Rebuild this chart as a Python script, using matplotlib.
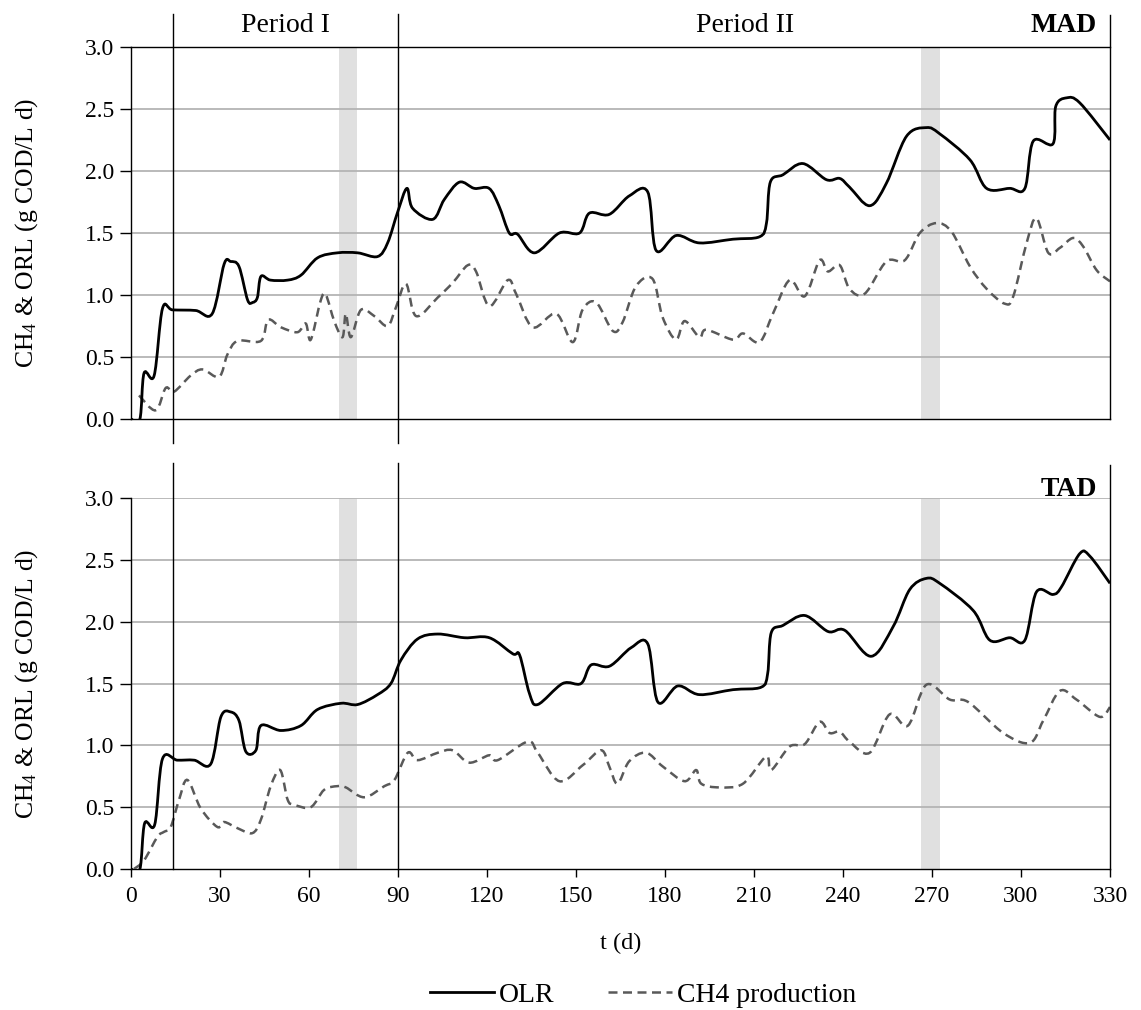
import matplotlib
matplotlib.use("Agg")
import numpy as np
import matplotlib.pyplot as plt
from matplotlib.path import Path
from matplotlib.patches import PathPatch
from matplotlib.lines import Line2D

plt.rcParams['font.family'] = ['Liberation Serif', 'DejaVu Serif']
plt.rcParams['mathtext.fontset'] = 'custom'
plt.rcParams['mathtext.rm'] = 'Liberation Serif'
plt.rcParams['mathtext.it'] = 'Liberation Serif:italic'

# ---- data (t in days, g COD/L d) ----
mad_olr_t = [0, 3, 4.4, 7.8, 10.6, 14, 21.8, 27.4, 31.4, 33.6, 36.4, 39.3, 41, 42.6, 43.8, 47, 52.8,
             57.3, 62.9, 69.6, 76.4, 83.1, 86.5, 89.9, 93, 94.9, 101.7, 105.6, 110.7, 115.7, 120.7,
             124, 127.5, 130.3, 136, 144.4, 151.2, 154.5, 161.2, 168, 174.2, 177, 183.8, 191.6,
             202.9, 211.9, 214.2, 215.5, 219.8, 226.5, 234.4, 238.9, 242.2, 249, 254.6, 261.4,
             268.1, 272.6, 282.8, 288.4, 296.2, 301.3, 304.1, 310.8, 311.7, 315.4, 319.8, 330]
mad_olr = [0, 0, 0.37, 0.35, 0.89, 0.88, 0.875, 0.85, 1.25, 1.27, 1.23, 0.96, 0.94, 0.98, 1.15, 1.12,
           1.12, 1.16, 1.30, 1.34, 1.34, 1.31, 1.42, 1.67, 1.86, 1.70, 1.61, 1.77, 1.91, 1.86, 1.86,
           1.72, 1.50, 1.49, 1.34, 1.50, 1.50, 1.66, 1.65, 1.80, 1.83, 1.36, 1.48, 1.42, 1.45, 1.47,
           1.58, 1.91, 1.97, 2.06, 1.93, 1.94, 1.87, 1.72, 1.90, 2.28, 2.35, 2.30, 2.09, 1.86, 1.86,
           1.86, 2.24, 2.22, 2.52, 2.59, 2.55, 2.25]

mad_ch4_t = [2.7, 8.3, 11.7, 14.5, 20.1, 24.1, 29.7, 32.5, 35.9, 43.8, 46.2, 50.5, 56.1, 58.9, 60.6,
             64, 65.7, 68.5, 71.3, 72.4, 74.1, 77.5, 82, 86.5, 89.3, 92.7, 96.1, 103.4, 108.5, 113.5,
             116.3, 120.8, 127, 129.8, 135.4, 143.3, 148.9, 152.2, 156.8, 162.4, 165.7, 170.2, 175.8,
             179.2, 183.7, 186.6, 191.6, 193.9, 202.9, 206.3, 211.9, 216.4, 222, 227.1, 232.1, 234.9,
             238.9, 242.2, 247.3, 254.6, 260.8, 265.9, 271.5, 276.6, 282.8, 288.4, 294.5, 297.4,
             301.9, 305.2, 309.2, 313.1, 317.6, 321, 325.5, 330]
mad_ch4 = [0.19, 0.07, 0.25, 0.22, 0.35, 0.40, 0.34, 0.52, 0.63, 0.63, 0.80, 0.74, 0.70, 0.77, 0.64,
           0.96, 1.00, 0.79, 0.66, 0.85, 0.66, 0.88, 0.83, 0.75, 0.90, 1.09, 0.83, 0.98, 1.10, 1.24,
           1.19, 0.91, 1.12, 1.01, 0.74, 0.85, 0.62, 0.88, 0.94, 0.71, 0.78, 1.07, 1.13, 0.82, 0.64,
           0.79, 0.66, 0.72, 0.64, 0.69, 0.62, 0.85, 1.12, 0.99, 1.28, 1.19, 1.24, 1.05, 1.01, 1.27,
           1.28, 1.50, 1.58, 1.51, 1.23, 1.05, 0.93, 0.99, 1.42, 1.62, 1.34, 1.38, 1.46, 1.39, 1.20,
           1.11]

tad_olr_t = [0, 3, 4.6, 8, 10.6, 15.6, 21.3, 26.9, 30.3, 33.6, 36.4, 38.7, 42.1, 43.8, 50.5, 57.3,
             62.9, 70.8, 76.4, 83.1, 87.6, 91, 96.6, 103.4, 112.4, 120.8, 128.7, 131, 134.3, 137.1,
             145.5, 151.7, 155.1, 161.3, 168.6, 174.2, 177.6, 184.3, 191.6, 202.9, 212.4, 214.6,
             215.8, 219.8, 227.1, 235, 240.6, 249.5, 256.9, 262.5, 268.1, 272.6, 283.9, 289.5, 296.2,
             301.3, 305.2, 310.8, 313.6, 319.8, 323.2, 330]
tad_olr = [0, 0, 0.37, 0.36, 0.89, 0.88, 0.88, 0.85, 1.23, 1.27, 1.20, 0.95, 0.96, 1.16, 1.12, 1.16,
           1.29, 1.34, 1.33, 1.41, 1.50, 1.69, 1.86, 1.90, 1.87, 1.87, 1.74, 1.73, 1.42, 1.33, 1.50,
           1.50, 1.65, 1.64, 1.79, 1.82, 1.35, 1.48, 1.41, 1.45, 1.47, 1.58, 1.91, 1.97, 2.05, 1.92,
           1.93, 1.72, 1.96, 2.26, 2.35, 2.31, 2.09, 1.85, 1.87, 1.85, 2.24, 2.22, 2.28, 2.55, 2.53,
           2.31]

tad_ch4_t = [1, 4.4, 8.9, 11.1, 13.4, 16.2, 19, 23.5, 29.1, 31.4, 35.9, 40.9, 43.8, 47.1, 50.3, 52.8,
             55, 60.6, 65.1, 69.6, 72.4, 78.6, 85.4, 88.8, 93.3, 96.6, 103.4, 108.4, 114, 120.8, 123.6,
             133.7, 137.1, 144.4, 152.3, 158.5, 161.2, 164, 167.9, 173.6, 179.2, 186.6, 190.5, 192.2,
             198.4, 206.3, 214.1, 215.8, 222, 227.1, 232.1, 235.5, 238.9, 242.2, 249, 255.7, 261.9,
             268.1, 276, 282.2, 294, 303, 307.5, 313.1, 318.7, 326.6, 330]
tad_ch4 = [0, 0.07, 0.26, 0.30, 0.34, 0.56, 0.72, 0.49, 0.34, 0.38, 0.33, 0.29, 0.40, 0.67, 0.80, 0.56,
           0.52, 0.50, 0.64, 0.67, 0.66, 0.58, 0.67, 0.72, 0.94, 0.88, 0.94, 0.96, 0.86, 0.92, 0.88,
           1.03, 0.94, 0.71, 0.84, 0.96, 0.83, 0.69, 0.87, 0.94, 0.83, 0.71, 0.80, 0.69, 0.66, 0.69,
           0.91, 0.80, 0.99, 1.01, 1.19, 1.10, 1.11, 1.03, 0.94, 1.25, 1.16, 1.49, 1.37, 1.35, 1.10,
           1.02, 1.20, 1.44, 1.37, 1.23, 1.31]

period_lines = [14, 90]
shaded = [(70.2, 76.2), (266.4, 272.6)]
x_ticks = list(range(0, 331, 30))
y_ticks = [0, 0.5, 1.0, 1.5, 2.0, 2.5, 3.0]

OLR_COLOR = 'black'
CH4_COLOR = '#595959'
GRID = '#b4b4b4'
DASH = (0, (3.6, 2.2))


def smooth_path(xs, ys):
    # excel-like smoothed line: bezier segments with catmull-rom tangents
    p = np.column_stack([xs, ys]).astype(float)
    verts = [p[0]]
    codes = [Path.MOVETO]
    n = len(p)
    for i in range(n - 1):
        p0 = p[i - 1] if i > 0 else p[i]
        p3 = p[i + 2] if i + 2 < n else p[i + 1]
        c1 = p[i] + (p[i + 1] - p0) / 6.0
        c2 = p[i + 1] - (p3 - p[i]) / 6.0
        verts += [c1, c2, p[i + 1]]
        codes += [Path.CURVE4] * 3
    return Path(verts, codes)


def draw_panel(ax, olr_t, olr, ch4_t, ch4, name, name_y, top_panel):
    ax.set_xlim(0, 330)
    ax.set_ylim(0, 3.0)
    for a, b in shaded:
        ax.axvspan(a, b, ymin=0, ymax=1, color='#e0e0e0', lw=0, zorder=0)
    for y in y_ticks[1:]:
        if top_panel and y == 3.0:
            continue
        ax.axhline(y, color=GRID, lw=1.3, zorder=1)

    ax.add_patch(PathPatch(smooth_path(ch4_t, ch4), fill=False, edgecolor=CH4_COLOR,
                           lw=1.8, linestyle=DASH, zorder=3, capstyle='butt'))
    ax.add_patch(PathPatch(smooth_path(olr_t, olr), fill=False, edgecolor=OLR_COLOR,
                           lw=2.0, zorder=4, joinstyle='round'))

    # period separators and right edge run past the axes box
    if top_panel:
        lo, hi = -0.195, 3.27
    else:
        lo, hi = 0, 3.28
    for x in period_lines:
        ax.plot([x, x], [lo, hi], color='black', lw=1.0, clip_on=False, zorder=5)
    ax.plot([330, 330], [0, hi - 0.01], color='black', lw=1.0, clip_on=False, zorder=5)

    for s in ['left', 'bottom']:
        ax.spines[s].set_linewidth(1.0)
    ax.spines['right'].set_visible(False)
    ax.spines['top'].set_visible(top_panel)
    ax.spines['top'].set_linewidth(1.0)

    ax.set_yticks(y_ticks)
    ax.set_yticklabels(['%.1f' % v for v in y_ticks], fontsize=17)
    ax.tick_params(axis='y', direction='out', length=8, width=1.0, pad=4)
    ax.set_ylabel('CH$_4$ & ORL (g COD/L d)', fontsize=18.5)
    ax.yaxis.set_label_coords(-0.093, 0.5)

    ax.set_xticks(x_ticks)
    if top_panel:
        ax.tick_params(axis='x', length=0, labelbottom=False)
    else:
        ax.set_xticklabels([str(v) for v in x_ticks], fontsize=17)
        ax.tick_params(axis='x', direction='out', length=6, width=1.0, pad=6)
        ax.set_xlabel('t (d)', fontsize=17.5, labelpad=19)

    ax.text(325.5, name_y, name, fontsize=20, fontweight='bold', ha='right', va='center')


fig = plt.figure(figsize=(11.41, 10.10), dpi=100)
ax1 = fig.add_axes([131 / 1141, 1 - 419 / 1010, 979 / 1141, 372 / 1010])
ax2 = fig.add_axes([131 / 1141, 1 - 869 / 1010, 979 / 1141, 371 / 1010])

draw_panel(ax1, mad_olr_t, mad_olr, mad_ch4_t, mad_ch4, 'MAD', 3.17, True)
draw_panel(ax2, tad_olr_t, tad_olr, tad_ch4_t, tad_ch4, 'TAD', 3.07, False)

ax1.text(52, 3.17, 'Period I', fontsize=20, ha='center', va='center')
ax1.text(207, 3.17, 'Period II', fontsize=20, ha='center', va='center')

handles = [Line2D([], [], color=OLR_COLOR, lw=2.0),
           Line2D([], [], color=CH4_COLOR, lw=1.8, linestyle=DASH)]
fig.legend(handles, ['OLR', 'CH4 production'], loc='center', bbox_to_anchor=(0.5636, 0.015),
           ncol=2, frameon=False, fontsize=20, handlelength=2.3, handletextpad=0.2,
           columnspacing=1.9)

fig.savefig('out.png', dpi=100)
